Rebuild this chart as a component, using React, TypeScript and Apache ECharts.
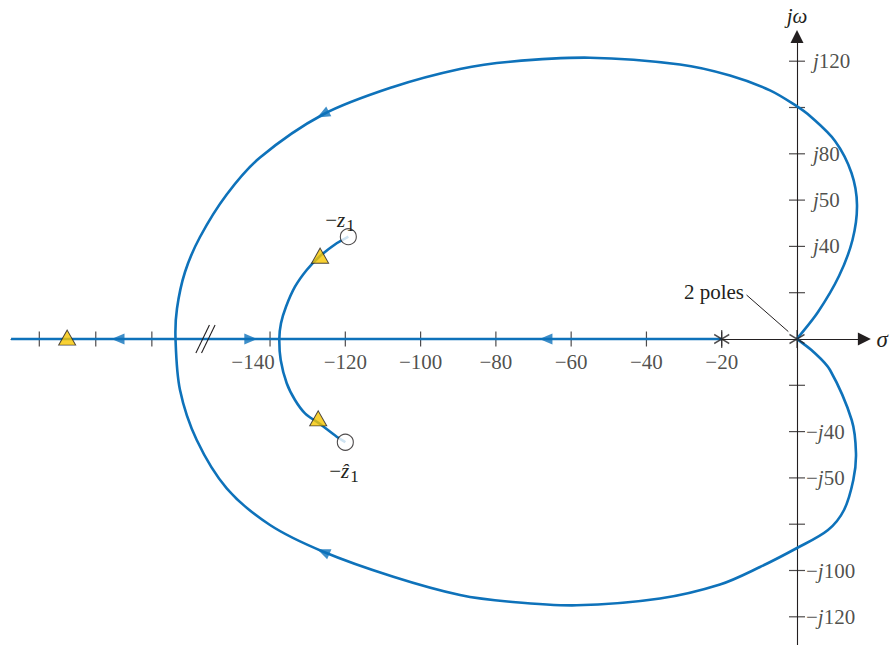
import React, { useEffect, useRef } from "react";
import * as echarts from "echarts";

// ---- data (sigma, omega display units) ----
const upperLoop: number[][] = [
  [0, 0], [5.58, 11.66], [11.16, 27.21], [14.74, 42.77], [15.94, 57.88], [14.48, 71.71],
  [10.1, 85.53], [3.45, 96.33], [0, 100.48], [-7.17, 107.39], [-17.8, 113.82], [-31.08, 118.58],
  [-54.99, 121.51], [-76.25, 119.79], [-89.53, 116.63], [-107.33, 108.86], [-125.93, 96.98],
  [-142.66, 78.4], [-151.51, 62.42], [-158.61, 44.06], [-162.59, 28.94], [-164.72, 13.18], [-165.11, 0],
];
const lowerLoop: number[][] = [
  [0, 0], [4.33, -5.49], [8.77, -13.39], [14.53, -34.99], [15.67, -49.37], [14.96, -60.91],
  [12.49, -73.87], [8.24, -82.51], [0, -90.28], [-9.83, -98.49], [-20.46, -106.05], [-36.4, -112.1],
  [-58.53, -115.03], [-76.25, -113.48], [-89.53, -110.58], [-107.25, -102.68], [-125.85, -91.88],
  [-140.01, -80.35], [-151.51, -64.49], [-159.48, -43.63], [-163.92, -22.03], [-165.11, 0],
];
const innerArc: number[][] = [
  [-119.2, 44.2], [-122.29, 41.34], [-126.91, 35.55], [-130.26, 29.81], [-133.37, 22.59],
  [-135.76, 13.95], [-137.09, 6.78], [-137.54, 0], [-137.17, -9.07], [-135.57, -19.14],
  [-133.37, -26.35], [-130.71, -32.1], [-126.99, -36.41], [-122.29, -42.2], [-120.0, -44.6],
];
const realAxisLocus: number[][] = [[-208.8, 0], [-20, 0]];
const zeros: number[][] = [[-119.2, 44.2], [-120.0, -44.6]];
const poles: number[][] = [[-20, 0], [0, 0]];
const yellowMarks: number[][] = [[-193.9, 0.6], [-126.7, 36.0], [-127.2, -34.3]];
const arrowPoints: number[][] = [[-125.93, 96.98], [-125.85, -91.88], [-180.4, 0], [-145.1, 0], [-66.7, 0]];
const arrowAngles: number[] = [117.6, 67.2, 90, -90, 90];
const breakMarkA: number[][] = [[-159.7, -6.0], [-156.1, 6.0]];
const breakMarkB: number[][] = [[-158.2, -6.0], [-154.6, 6.0]];
const leader: number[][] = [[-13.4, 19.0], [-2.3, 3.2]];
const xTickValues: number[] = [-201.3, -186.3, -171.4, -140, -120, -100, -80, -60, -40, -20];
const xLabelValues: number[] = [-140, -120, -100, -80, -60, -40, -20];
const xLabelTexts: string[] = ["−140", "−120", "−100", "−80", "−60", "−40", "−20"];
const yTickValues: number[] = [120, 100, 80, 60, 40, 20, -20, -40, -60, -80, -100, -120];
const yLabelValues: number[] = [120, 80, 60, 40, -40, -60, -100, -120];
const yLabelTexts: string[] = ["j120", "j80", "j50", "j40", "−j40", "−j50", "−j100", "−j120"];

// ---- layout ----
const X_MIN = -208.8, X_MAX = 17.9, Y_MIN = -135, Y_MAX = 130.7;
const PX_X = 3.764, PX_Y = 2.315, OX = 797, OY = 339;

const BLUE = "#0E72BA";
const INK = "#231F20";
const FONT = "Liberation Serif";

// smooth curve through points (custom series, positions come from api.coord)
function curveSeries(data: number[][], z = 3) {
  return {
    type: "custom", coordinateSystem: "cartesian2d", data, silent: true, z,
    renderItem: (params: any, api: any) => {
      if (params.dataIndex !== 0) return null;
      const n = data.length;
      const p: number[][] = [];
      for (let i = 0; i < n; i++) p.push(api.coord([api.value(0, i), api.value(1, i)]));
      const k = 0.33;
      const outH: number[][] = [], inH: number[][] = [];
      for (let i = 0; i < n; i++) {
        const prev = p[Math.max(i - 1, 0)], next = p[Math.min(i + 1, n - 1)], c = p[i];
        const vx = next[0] - prev[0], vy = next[1] - prev[1];
        const lp = Math.hypot(c[0] - prev[0], c[1] - prev[1]);
        const ln = Math.hypot(next[0] - c[0], next[1] - c[1]);
        const t = lp + ln || 1;
        outH.push([c[0] + vx * k * (ln / t), c[1] + vy * k * (ln / t)]);
        inH.push([c[0] - vx * k * (lp / t), c[1] - vy * k * (lp / t)]);
      }
      let d = `M${p[0][0]},${p[0][1]}`;
      for (let i = 0; i < n - 1; i++) {
        d += ` C${outH[i][0]},${outH[i][1]} ${inH[i + 1][0]},${inH[i + 1][1]} ${p[i + 1][0]},${p[i + 1][1]}`;
      }
      return {
        type: "path", shape: { pathData: d },
        style: { stroke: BLUE, lineWidth: 2.6, fill: "none" },
      };
    },
  };
}

export default function App() {
  const ref = useRef<HTMLDivElement>(null);
  useEffect(() => {
    if (!ref.current) return;
    const chart = echarts.init(ref.current, undefined, { renderer: "svg" });
    const txt = { fontFamily: FONT, fontSize: 21, color: INK };
    const lineSeries = (data: number[][], extra: any = {}) => ({
      type: "line", data, showSymbol: false, symbol: "none",
      lineStyle: { color: BLUE, width: 2.6 }, z: 3, silent: true, ...extra,
    });
    const yRich = (t: string) => {
      const d = t.replace(/[−j]/g, "");
      return t.startsWith("−") ? `{n|−}{i|j}{n|${d}}` : `{ip|j}{n|${d}}`;
    };
    const subRich = {
      n: { fontFamily: FONT, fontSize: 21, fill: INK },
      i: { fontFamily: FONT, fontSize: 21, fontStyle: "italic", fill: INK },
      s: { fontFamily: FONT, fontSize: 17, fill: INK, padding: [10, 0, 0, 1] },
    };
    // one continuous loop: origin -> upper half -> break-in point -> lower half -> origin
    const bigLoop = upperLoop.concat(lowerLoop.slice(0, -1).reverse());
    chart.setOption({
      animation: false,
      grid: {
        left: OX + X_MIN * PX_X, width: (X_MAX - X_MIN) * PX_X,
        top: OY - Y_MAX * PX_Y, height: (Y_MAX - Y_MIN) * PX_Y,
        containLabel: false, outerBoundsMode: "none",
      },
      xAxis: {
        type: "value", min: X_MIN, max: X_MAX,
        splitLine: { show: false }, axisTick: { show: false }, axisLabel: { show: false },
        axisLine: { onZero: true, lineStyle: { color: INK, width: 1.1 }, symbol: ["none", "triangle"], symbolSize: [13, 13] },
        name: "σ", nameLocation: "end", nameGap: 12,
        nameTextStyle: { ...txt, fontStyle: "italic", fontSize: 23, verticalAlign: "middle", align: "left" },
      },
      yAxis: {
        type: "value", min: Y_MIN, max: Y_MAX,
        splitLine: { show: false }, axisTick: { show: false }, axisLabel: { show: false },
        axisLine: { onZero: true, lineStyle: { color: INK, width: 1.1 }, symbol: ["none", "triangle"], symbolSize: [13, 13] },
        name: "jω", nameLocation: "end", nameGap: 10,
        nameTextStyle: { ...txt, fontStyle: "italic", align: "center" },
      },
      series: [
        {
          type: "scatter", silent: true, z: 1, symbol: "rect", symbolSize: [1.2, 15],
          itemStyle: { color: INK },
          data: xTickValues.map((v) => ({
            value: [v, 0],
            label: v === -140 ? { offset: [-17, 0] } : undefined,
          })),
          label: {
            show: true, position: "bottom", distance: 5, ...txt,
            formatter: (p: any) => {
              const i = xLabelValues.indexOf(p.value[0]);
              return i < 0 ? "" : xLabelTexts[i];
            },
          },
        },
        {
          type: "scatter", silent: true, z: 1, symbol: "rect", symbolSize: [16, 1.2],
          itemStyle: { color: INK },
          data: yTickValues.map((v) => [0, v]),
          label: {
            show: true, position: "right", distance: 1,
            formatter: (p: any) => {
              const i = yLabelValues.indexOf(p.value[1]);
              return i < 0 ? "" : yRich(yLabelTexts[i]);
            },
            rich: {
              n: { ...txt },
              i: { ...txt, fontStyle: "italic" },
              ip: { ...txt, fontStyle: "italic", padding: [0, 0, 0, 7] },
            },
          },
        },
        lineSeries(realAxisLocus),
        curveSeries(bigLoop),
        curveSeries(innerArc),
        lineSeries(breakMarkA, { lineStyle: { color: INK, width: 1.1 }, z: 4 }),
        lineSeries(breakMarkB, { lineStyle: { color: INK, width: 1.1 }, z: 4 }),
        lineSeries(leader, { lineStyle: { color: INK, width: 1 }, z: 4 }),
        {
          type: "scatter", silent: true, z: 5,
          data: arrowPoints.map((p, i) => ({ value: p, symbolRotate: arrowAngles[i] })),
          symbol: "triangle", symbolSize: [11, 13], itemStyle: { color: BLUE },
        },
        {
          type: "scatter", silent: true, z: 6, data: yellowMarks, symbol: "triangle", symbolSize: [17, 15],
          itemStyle: { color: "#F7C600", borderColor: INK, borderWidth: 1 },
        },
        {
          type: "scatter", silent: true, z: 6, data: zeros, symbol: "circle", symbolSize: 16,
          itemStyle: { color: "#ffffff", borderColor: INK, borderWidth: 1.1 },
        },
        {
          type: "scatter", silent: true, z: 6, data: poles,
          symbol: "path://M0,-9L0,9M-7.8,-4.5L7.8,4.5M-7.8,4.5L7.8,-4.5", symbolSize: [15, 18],
          itemStyle: { color: "none", borderColor: INK, borderWidth: 1.3 },
        },
      ],
      graphic: [
        {
          type: "text", x: 744, y: 292, z: 10,
          style: { text: "2 poles", fill: INK, font: `21px "${FONT}"`, align: "right", verticalAlign: "middle" },
        },
        {
          type: "text", x: 340, y: 220, z: 10,
          style: { text: "{n|−}{i|z}{s|1}", align: "center", verticalAlign: "middle", rich: subRich },
        },
        {
          type: "text", x: 344, y: 471, z: 10,
          style: { text: "{n|−}{i|ẑ}{s|1}", align: "center", verticalAlign: "middle", rich: subRich },
        },
      ],
    });
    return () => chart.dispose();
  }, []);
  return <div ref={ref} style={{ position: "absolute", left: 0, top: 0, width: 891, height: 645 }} />;
}
